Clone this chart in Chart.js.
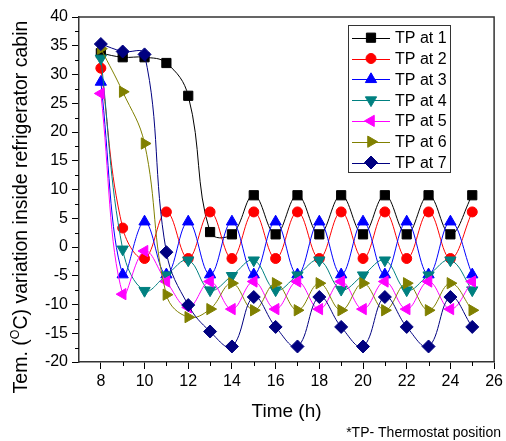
<!DOCTYPE html>
<html><head><meta charset="utf-8">
<script src="https://cdn.jsdelivr.net/npm/chart.js@4/dist/chart.umd.min.js"></script>
<style>html,body{margin:0;padding:0;background:#fff}#wrap{width:506px;height:441px;position:relative}</style>
</head><body><div id="wrap"><canvas id="c" width="506" height="441"></canvas></div>
<script>
const hours = [8,9,10,11,12,13,14,15,16,17,18,19,20,21,22,23,24,25];
const tp1 = [33.7,33.0,33.0,32.0,26.3,2.6,2.2,9.0,2.2,9.0,2.2,9.0,2.2,9.0,2.2,9.0,2.2,9.0];
const tp2 = [31.1,3.3,-2.0,6.1,-2.0,6.1,-2.0,6.1,-2.0,6.1,-2.0,6.1,-2.0,6.1,-2.0,6.1,-2.0,6.1];
const tp3 = [28.7,-4.8,4.4,-4.8,4.4,-4.8,4.4,-4.8,4.4,-4.8,4.4,-4.8,4.4,-4.8,4.4,-4.8,4.4,-4.8];
const tp4 = [32.8,-0.4,-7.6,-4.9,-2.3,-7.5,-5.0,-2.3,-7.5,-4.9,-2.3,-7.4,-4.9,-2.3,-7.5,-4.9,-2.3,-7.5];
const tp5 = [26.7,-8.2,-0.7,-6.0,-10.5,-6.0,-10.8,-6.0,-10.8,-6.0,-10.8,-6.0,-10.8,-6.0,-10.8,-6.0,-10.8,-6.0];
const tp6 = [34.5,27.0,18.0,-8.3,-12.2,-10.8,-6.3,-11.0,-6.3,-11.0,-6.3,-11.0,-6.3,-11.0,-6.3,-11.0,-6.3,-11.0];
const tp7 = [35.3,34.0,33.5,-0.9,-10.1,-14.7,-17.3,-8.7,-13.9,-17.3,-8.7,-13.9,-17.3,-8.7,-13.9,-17.3,-8.7,-13.9];
const seriesNames = ['TP at 1','TP at 2','TP at 3','TP at 4','TP at 5','TP at 6','TP at 7'];
const seriesValues = [tp1,tp2,tp3,tp4,tp5,tp6,tp7];
const xTickLabels = [8,10,12,14,16,18,20,22,24,26];
const yTickLabels = [-20,-15,-10,-5,0,5,10,15,20,25,30,35,40];
const xTitle = 'Time (h)';
const yTitleParts = ['Tem. (', 'O', 'C) variation inside refrigerator cabin'];
const footnote = '*TP- Thermostat position';

const colors = ['#000000','#ff0000','#0000ff','#008080','#ff00ff','#808000','#000080'];
const styles = [
  {s:'rect', r:6.5, rot:0},
  {s:'circle', r:5, rot:0},
  {s:'triangle', r:6.5, rot:0},
  {s:'triangle', r:6.5, rot:180},
  {s:'triangle', r:6.5, rot:270},
  {s:'triangle', r:6.5, rot:90},
  {s:'rectRot', r:6.5, rot:0}
];
const FONT = '"Liberation Sans", Arial, sans-serif';

const datasets = seriesValues.map((vals, i) => ({
  label: seriesNames[i],
  data: hours.map((h, j) => ({x: h, y: vals[j]})),
  borderColor: colors[i],
  backgroundColor: colors[i],
  pointBackgroundColor: colors[i],
  pointBorderColor: colors[i],
  pointBorderWidth: 1,
  pointStyle: styles[i].s,
  pointRadius: styles[i].r,
  pointRotation: styles[i].rot,
  borderWidth: 1,
  tension: 0.4,
  fill: false,
  order: 6 - i
}));

function marker(ctx, st, x, y, color) {
  ctx.save();
  ctx.fillStyle = color; ctx.strokeStyle = color; ctx.lineWidth = 1;
  if (Chart.helpers && Chart.helpers.drawPoint) {
    Chart.helpers.drawPoint(ctx, {pointStyle: st.s, rotation: st.rot, radius: st.r, borderWidth: 1}, x, y);
  } else {
    ctx.beginPath(); ctx.arc(x, y, st.r, 0, Math.PI*2); ctx.fill();
  }
  ctx.restore();
}

const deco = {
  id: 'deco',
  afterDraw(chart) {
    const {ctx, chartArea: a, scales: {x, y}} = chart;
    ctx.save();
    ctx.strokeStyle = '#333'; ctx.lineWidth = 1.5;
    ctx.beginPath();
    ctx.moveTo(a.left, a.top); ctx.lineTo(a.right, a.top); ctx.lineTo(a.right, a.bottom);
    ctx.stroke();
    // minor ticks
    ctx.lineWidth = 1; ctx.strokeStyle = '#000';
    ctx.beginPath();
    for (let k = 0; k < xTickLabels.length - 1; k++) {
      const v = (xTickLabels[k] + xTickLabels[k+1]) / 2;
      const px = Math.round(x.getPixelForValue(v)) + 0.5;
      ctx.moveTo(px, a.bottom); ctx.lineTo(px, a.bottom + 4);
    }
    for (let k = 0; k < yTickLabels.length - 1; k++) {
      const v = (yTickLabels[k] + yTickLabels[k+1]) / 2;
      const py = Math.round(y.getPixelForValue(v)) + 0.5;
      ctx.moveTo(a.left, py); ctx.lineTo(a.left - 4, py);
    }
    ctx.stroke();
    // x title
    ctx.fillStyle = '#000';
    ctx.font = '19px ' + FONT;
    ctx.textAlign = 'center'; ctx.textBaseline = 'middle';
    ctx.fillText(xTitle, (a.left + a.right) / 2, 412);
    // footnote
    ctx.font = '14px ' + FONT;
    ctx.textAlign = 'right';
    ctx.fillText(footnote, 501, 433);
    // y title with superscript
    ctx.save();
    ctx.translate(22, 207);
    ctx.rotate(-Math.PI / 2);
    const big = '19.5px ' + FONT, small = '12.5px ' + FONT;
    ctx.font = big; const w0 = ctx.measureText(yTitleParts[0]).width;
    const w2 = ctx.measureText(yTitleParts[2]).width;
    ctx.font = small; const w1 = ctx.measureText(yTitleParts[1]).width;
    let sx = -(w0 + w1 + w2) / 2;
    ctx.textAlign = 'left'; ctx.textBaseline = 'middle';
    ctx.font = big; ctx.fillText(yTitleParts[0], sx, 0); sx += w0;
    ctx.font = small; ctx.fillText(yTitleParts[1], sx, -6); sx += w1;
    ctx.font = big; ctx.fillText(yTitleParts[2], sx, 0);
    ctx.restore();
    // legend
    ctx.strokeStyle = '#333'; ctx.lineWidth = 1;
    ctx.strokeRect(348.5, 25.5, 102, 147);
    ctx.font = '16px ' + FONT; ctx.textAlign = 'left'; ctx.textBaseline = 'middle';
    for (let i = 0; i < seriesNames.length; i++) {
      const ly = 37.7 + i * 20.8;
      ctx.strokeStyle = colors[i]; ctx.lineWidth = 1;
      ctx.beginPath(); ctx.moveTo(352, Math.round(ly) + 0.5); ctx.lineTo(390, Math.round(ly) + 0.5); ctx.stroke();
      marker(ctx, styles[i], 371, ly, colors[i]);
      ctx.fillStyle = '#000';
      ctx.fillText(seriesNames[i], 395, ly + 1);
    }
    ctx.restore();
  }
};

new Chart(document.getElementById('c'), {
  type: 'line',
  data: {datasets},
  options: {
    responsive: false,
    devicePixelRatio: 1,
    animation: false,
    layout: {padding: {top: 17, right: 10, left: 0, bottom: 0}},
    plugins: {legend: {display: false}, tooltip: {enabled: false}},
    scales: {
      x: {
        type: 'linear', position: 'bottom', min: 7, max: 26,
        afterBuildTicks: s => { s.ticks = xTickLabels.map(v => ({value: v})); },
        afterFit: s => { s.height = 79; },
        grid: {drawOnChartArea: false, drawTicks: true, tickLength: 7, tickColor: '#000', tickWidth: 1},
        border: {display: true, color: '#333', width: 1.5},
        ticks: {color: '#000', font: {family: FONT, size: 16}, padding: 3, maxRotation: 0, autoSkip: false}
      },
      y: {
        type: 'linear', position: 'left', min: -20, max: 40,
        afterBuildTicks: s => { s.ticks = yTickLabels.map(v => ({value: v})); },
        afterFit: s => { s.width = 79; },
        grid: {drawOnChartArea: false, drawTicks: true, tickLength: 7, tickColor: '#000', tickWidth: 1},
        border: {display: true, color: '#333', width: 1.5},
        ticks: {color: '#000', font: {family: FONT, size: 16}, padding: 4, autoSkip: false}
      }
    }
  },
  plugins: [deco]
});
</script></body></html>
